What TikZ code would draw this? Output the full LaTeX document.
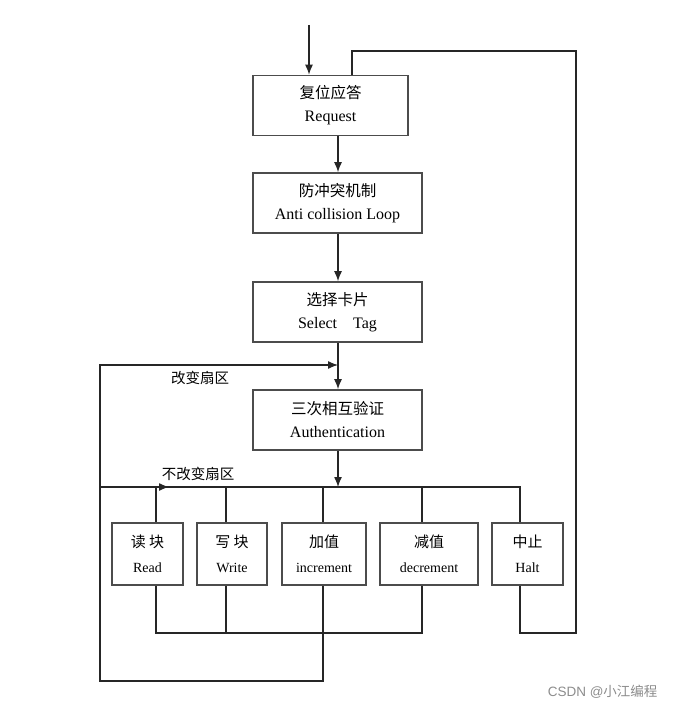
\documentclass[tikz,border=0pt]{standalone}
\usepackage{fontspec}
\setmainfont{Liberation Serif}
\newfontfamily\cjk{Noto Sans CJK SC}
\usepackage{tikz}
\usetikzlibrary{positioning,arrows.meta}

\tikzset{
  stagebox/.style={draw=black!70, line width=1.6pt, fill=white, align=center,
    minimum height=60pt, inner sep=0pt, font=\fontsize{16}{23}\selectfont},
  opbox/.style={stagebox, minimum height=62pt, font=\fontsize{14}{25}\selectfont},
  wire/.style={draw=black!85, line width=1.3pt},
  arr/.style={wire, -{Latex[length=10pt,width=8pt]}}
}

\begin{document}
\begin{tikzpicture}[x=1pt,y=-1pt]
        \useasboundingbox (0,0) rectangle (676,711);
        % column lines
        \coordinate (main) at (338,0);
        \coordinate (c1) at (156,0);
        \coordinate (c2) at (226,0);
        \coordinate (c3) at (323,0);
        \coordinate (c4) at (422,0);
        \coordinate (c5) at (520,0);
        \coordinate (in) at (309,25);
        \coordinate (ret) at (576,51);
        \coordinate (back) at (352,0);
        \coordinate (lft) at (100,681);
        \coordinate (bus) at (0,487);
        \coordinate (col) at (0,633);
        \coordinate (chg) at (338,365);
        \coordinate (nc) at (169,487);
        % stages
        \node[stagebox, minimum width=155pt] (req) at (330.5,105.5) {{\cjk\fontsize{15.5}{23}\selectfont 复位应答}\\Request};
        \node[stagebox, minimum width=169pt] (anti) at (337.5,203) {{\cjk\fontsize{15.5}{23}\selectfont 防冲突机制}\\Anti collision Loop};
        \node[stagebox, minimum width=169pt] (sel) at (337.5,312) {{\cjk\fontsize{15.5}{23}\selectfont 选择卡片}\\Select\quad Tag};
        \node[stagebox, minimum width=169pt] (auth) at (337.5,420) {{\cjk\fontsize{15.5}{23}\selectfont 三次相互验证}\\Authentication};
        % operations
        \node[opbox, minimum width=71pt] (read) at (147.5,554) {{\cjk\fontsize{15}{25}\selectfont 读\ 块}\\Read};
        \node[opbox, minimum width=70pt] (write) at (232,554) {{\cjk\fontsize{15}{25}\selectfont 写\ 块}\\Write};
        \node[opbox, minimum width=84pt] (inc) at (324,554) {{\cjk\fontsize{15}{25}\selectfont 加值}\\increment};
        \node[opbox, minimum width=98pt] (dec) at (429,554) {{\cjk\fontsize{15}{25}\selectfont 减值}\\decrement};
        \node[opbox, minimum width=71pt] (halt) at (527.5,554) {{\cjk\fontsize{15}{25}\selectfont 中止}\\Halt};
        % labels
        \node[font=\cjk\fontsize{14.5}{14}\selectfont] (lchg) at (200,378) {改变扇区};
        \node[font=\cjk\fontsize{14.5}{14}\selectfont] (lkeep) at (198,474) {不改变扇区};
        \node[font=\cjk\fontsize{13.5}{14}\selectfont, text=black!45, anchor=east] (mark) at (661,692) {\fontspec{Liberation Sans}CSDN @\cjk 小江编程};
        % main flow
        \draw[arr] (in) -- (in |- req.north);
        \draw[arr] (req.south -| main) -- (anti.north -| main);
        \draw[arr] (anti.south -| main) -- (sel.north -| main);
        \draw[arr] (sel.south -| main) -- (auth.north -| main);
        \draw[arr] (auth.south -| main) -- (main |- bus);
        % bus to operations
        \draw[wire] (lft |- bus) -- (c5 |- bus) -- (halt.north -| c5);
        \draw[arr] (lft |- bus) -- (nc);
        \draw[wire] (c1 |- bus) -- (read.north -| c1);
        \draw[wire] (c2 |- bus) -- (write.north -| c2);
        \draw[wire] (c3 |- bus) -- (inc.north -| c3);
        \draw[wire] (c4 |- bus) -- (dec.north -| c4);
        % collector under operations
        \draw[wire] (read.south -| c1) -- (c1 |- col) -- (c4 |- col) -- (dec.south -| c4);
        \draw[wire] (write.south -| c2) -- (c2 |- col);
        % change sector loop
        \draw[arr] (inc.south -| c3) |- (lft) -- (lft |- chg) -- (chg);
        % halt back to request
        \draw[wire] (halt.south -| c5) |- (ret |- col) -- (ret) -| (req.north -| back);
\end{tikzpicture}
\end{document}
